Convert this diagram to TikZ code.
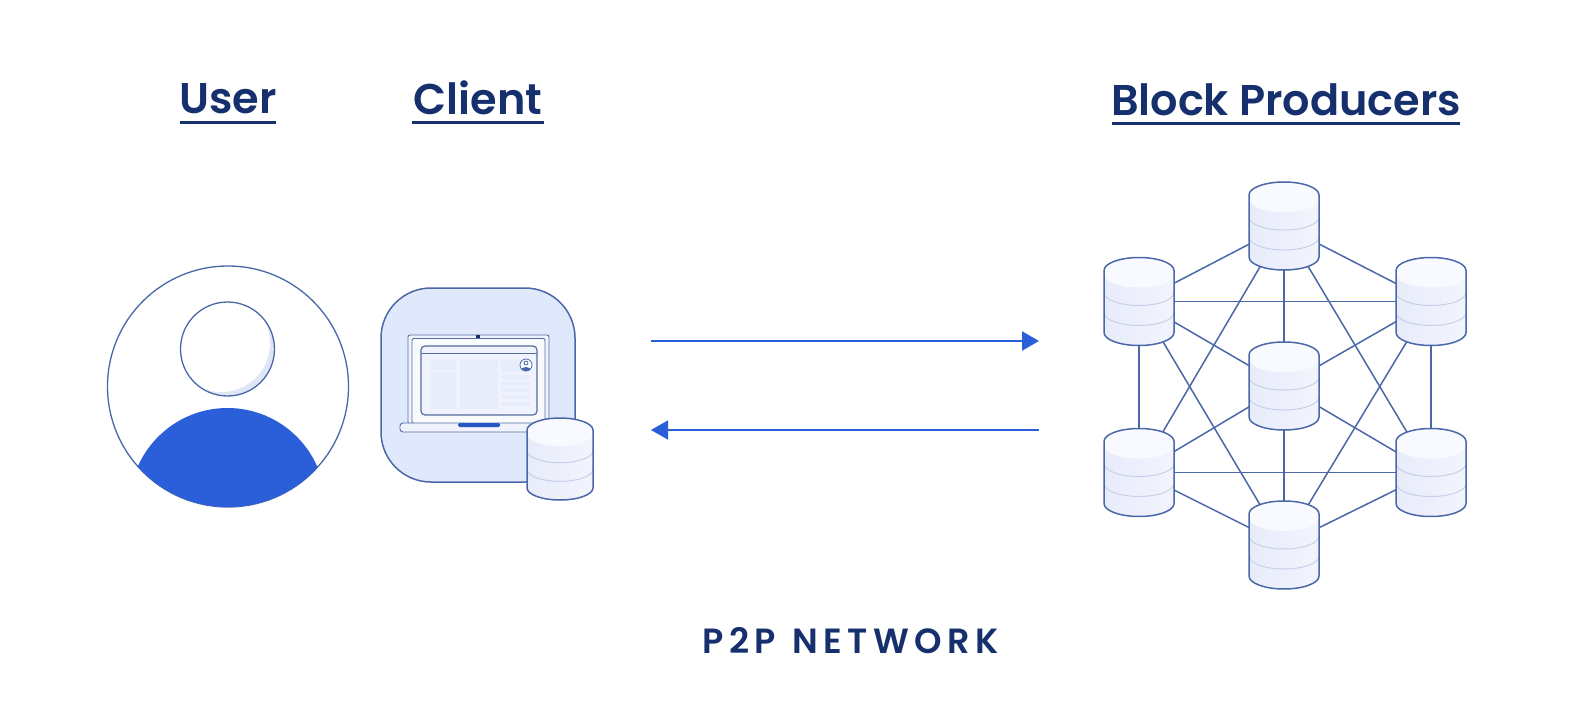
\documentclass[tikz,border=0pt]{standalone}
\usepackage{fontspec}
\setmainfont{Poppins}[BoldFont={Poppins SemiBold}]
\usetikzlibrary{arrows.meta}
\definecolor{navy}{HTML}{16306E}
\definecolor{blue}{HTML}{2B5FD9}
\definecolor{edgeblue}{HTML}{4A68A8}
\definecolor{pale}{HTML}{E0E9FC}
\definecolor{bodyA}{HTML}{E8ECFA}
\definecolor{bodyB}{HTML}{F2F4FD}
\definecolor{disc}{HTML}{F9FAFF}
\definecolor{band}{HTML}{C6D0E9}
\definecolor{panel}{HTML}{E8EDFB}
\definecolor{scr}{HTML}{F0F3FD}
\definecolor{bezelfill}{HTML}{F8FAFE}
\definecolor{crescent}{HTML}{DFE6F6}
\newcommand{\halfup}[3]{% xl, xr, y: upper half of an ellipse of half height \curry, left to right
  (#1,#3) .. controls (#1,#3-.5523*\curry) and ({(#1+#2)/2-.5523*(#2-#1)/2},#3-\curry) .. ({(#1+#2)/2},#3-\curry)
  .. controls ({(#1+#2)/2+.5523*(#2-#1)/2},#3-\curry) and (#2,#3-.5523*\curry) .. (#2,#3)}
\newcommand{\halfdown}[3]{% from xr to xl
  (#2,#3) .. controls (#2,#3+.5523*\curry) and ({(#1+#2)/2+.5523*(#2-#1)/2},#3+\curry) .. ({(#1+#2)/2},#3+\curry)
  .. controls ({(#1+#2)/2-.5523*(#2-#1)/2},#3+\curry) and (#1,#3+.5523*\curry) .. (#1,#3)}
\newcommand{\dbcyl}[4]{% cx, top, width, height
  \pgfmathsetmacro{\xl}{#1-#3/2}\pgfmathsetmacro{\xr}{#1+#3/2}
  \pgfmathsetmacro{\un}{#4/88}
  \pgfmathsetmacro{\curry}{13*\un}
  \pgfmathsetmacro{\ya}{#2+13*\un}\pgfmathsetmacro{\yb}{#2+#4-13*\un}
  \pgfmathsetmacro{\sa}{#2+17*\un}\pgfmathsetmacro{\sb}{#2+35*\un}\pgfmathsetmacro{\sc}{#2+55*\un}
  \path[left color=bodyA,right color=bodyB] \halfup{\xl}{\xr}{\ya} -- \halfdown{\xl}{\xr}{\yb} -- cycle;
  \fill[disc] \halfup{\xl}{\xr}{\ya} -- \halfdown{\xl}{\xr}{\sa} -- cycle;
  \draw[band,line width=1pt] \halfdown{\xl}{\xr}{\sb};
  \draw[band,line width=1pt] \halfdown{\xl}{\xr}{\sc};
  \draw[edgeblue,line width=1.5pt] \halfup{\xl}{\xr}{\ya} -- \halfdown{\xl}{\xr}{\yb} -- cycle;
}
\tikzset{
  x=1pt,y=-1pt,
  dbnode/.style={inner sep=0pt,minimum width=70pt,minimum height=88pt},
  link/.style={edgeblue,line width=1.5pt},
  flow/.style={blue,line width=2pt,-{Triangle[length=17pt,width=19pt]}},
  title/.style={navy,font=\fontsize{43}{50}\selectfont\bfseries,anchor=base,inner sep=0pt},
  rule/.style={navy,line width=3pt}
}
\begin{document}
\begin{tikzpicture}
\useasboundingbox (0,0) rectangle (1573,727);
\fill[white] (0,0) rectangle (1573,727);
% titles
\node[title] (user) at (228,114) {User};
\node[title] (client) at (478,114.5) {Client};
\node[title] (bp) at (1286,116) {Block Producers};
\coordinate (ua) at (180,123); \coordinate (ub) at (276,123);
\coordinate (ca) at (412,123); \coordinate (cb) at (544,123);
\coordinate (ba) at (1112,124); \coordinate (bb) at (1460,124);
\draw[rule] (ua) -- (ub); \draw[rule] (ca) -- (cb); \draw[rule] (ba) -- (bb);
\node[navy,anchor=base,inner sep=0pt,font=\fontsize{35}{40}\selectfont\bfseries] (p2p) at (850.5,653) {P\hspace{5.5pt}2\hspace{5.5pt}P\hspace{16pt}N\hspace{5.5pt}E\hspace{5.5pt}T\hspace{5.5pt}W\hspace{5.5pt}O\hspace{5.5pt}R\hspace{5.5pt}K};
% user
\node[circle,draw=edgeblue,line width=1.3pt,minimum size=241pt,inner sep=0pt] (ring) at (228,386.5) {};
\begin{scope}
\clip (228,386.5) circle[radius=120.5];
\fill[blue] (227.5,506) circle[radius=98];
\end{scope}
\begin{scope}
\clip (227.5,349) circle[radius=47];
\fill[crescent] (227.5,349) circle[radius=47];
\fill[white] (221,343) circle[radius=49];
\end{scope}
\node[circle,draw=edgeblue,line width=1.3pt,minimum size=94pt,inner sep=0pt] (head) at (227.5,349) {};
% client
\node[draw=edgeblue,fill=pale,line width=1.5pt,rounded corners=50pt,minimum size=194pt,inner sep=0pt] (tile) at (478,385) {};
\node[draw=edgeblue!80!gray,fill=scr,line width=.9pt,rounded corners=2pt,minimum width=141pt,minimum height=89pt,inner sep=0pt] (lid) at (478.5,379.5) {};
\fill[navy] (476,334.5) rectangle (479.5,337.5);
\node[draw=edgeblue!80!gray,fill=bezelfill,line width=.9pt,rounded corners=2pt,minimum width=133pt,minimum height=85pt,inner sep=0pt] (bezel) at (478.5,381) {};
\node[draw=edgeblue!80!gray,fill=scr,line width=1.2pt,rounded corners=4pt,minimum width=116pt,minimum height=69pt,inner sep=0pt] (screen) at (479,380.5) {};
\draw[edgeblue!80!gray,line width=.9pt] (421,353) -- (537,353);
\fill[panel] (431,360) rectangle (456,370);
\fill[panel] (431,373) rectangle (456,409);
\fill[panel] (460,360) rectangle (498,409);
\fill[panel] (501,360) rectangle (530,372);
\foreach \ry in {375,382,388,395,402}{\fill[panel] (501,\ry) rectangle (530,\ry+4);}
\node[circle,draw=edgeblue,fill=white,line width=.8pt,minimum size=12pt,inner sep=0pt] (avatar) at (526,365) {};
\begin{scope}
\clip (526,365) circle[radius=6];
\fill[edgeblue] (526,370.5) ellipse[x radius=5,y radius=3.5];
\end{scope}
\draw[edgeblue,line width=.8pt] (526,363) circle[radius=2];
\draw[edgeblue!80!gray,fill=scr,line width=.9pt,rounded corners=3pt] (400,423) rectangle (540,432);
\fill[blue!80!navy,rounded corners=1.5pt] (458,423) rectangle (500,427);
\dbcyl{560}{418}{66}{82}
% arrows
\coordinate (a1) at (651,341); \coordinate (a2) at (1039,341);
\coordinate (b1) at (1039,430); \coordinate (b2) at (651,430);
\draw[flow] (a1) -- (a2);
\draw[flow] (b1) -- (b2);
% block producers
\node[dbnode] (T) at (1284,226) {};
\node[dbnode] (L) at (1139,301.5) {};
\node[dbnode] (R) at (1431,301.5) {};
\node[dbnode] (C) at (1284,386) {};
\node[dbnode] (P) at (1139,472.5) {};
\node[dbnode] (Q) at (1431,472.5) {};
\node[dbnode] (B) at (1284,545) {};
\foreach \a/\b in {T/L,T/R,T/C,T/P,T/Q,L/R,L/C,L/B,L/P,R/C,R/B,R/Q,C/P,C/Q,C/B,P/Q,P/B,Q/B}{
  \draw[link] (\a.center) -- (\b.center);
}
\dbcyl{1284}{182}{70}{88}
\dbcyl{1139}{257.5}{70}{88}
\dbcyl{1431}{257.5}{70}{88}
\dbcyl{1284}{342}{70}{88}
\dbcyl{1139}{428.5}{70}{88}
\dbcyl{1431}{428.5}{70}{88}
\dbcyl{1284}{501}{70}{88}
\end{tikzpicture}
\end{document}
